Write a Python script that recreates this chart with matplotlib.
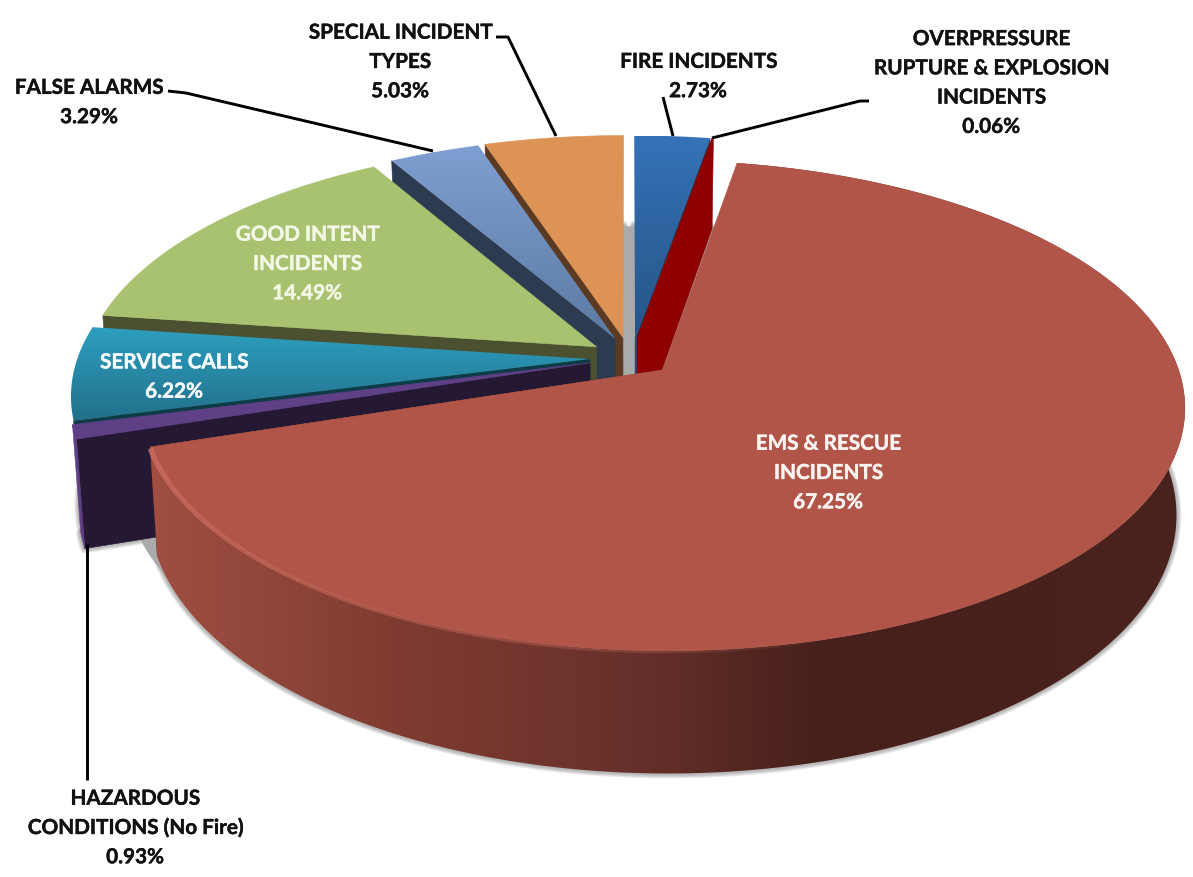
import numpy as np
import matplotlib
matplotlib.use("Agg")
import matplotlib.pyplot as plt
import matplotlib.patheffects as pe
from matplotlib.patches import Polygon
from matplotlib.collections import LineCollection
from matplotlib.colors import to_rgb

# Incident shares, clockwise from twelve o'clock
categories = ["FIRE INCIDENTS", "OVERPRESSURE\nRUPTURE & EXPLOSION\nINCIDENTS",
              "EMS & RESCUE\nINCIDENTS", "HAZARDOUS\nCONDITIONS (No Fire)",
              "SERVICE CALLS", "GOOD INTENT\nINCIDENTS", "FALSE ALARMS",
              "SPECIAL INCIDENT\nTYPES"]
values = [2.73, 0.06, 67.25, 0.93, 6.22, 14.49, 3.29, 5.03]

W, H = 1193, 878
# Perspective projection of the unit disc onto the canvas
X0, Y0, A, B, K = 628.0, 371.0, 516.0, 240.0, 0.145
DEPTH, BASE_SCALE = 105.0, 0.985

# Explosion offset of every slice in disc units
offsets = [(0.014, 0.138), (0.018, 0.138), (0.067, 0.0), (-0.074, 0.03),
           (-0.0745, 0.046), (-0.062, 0.098), (-0.025, 0.132), (-0.01, 0.138)]

face_styles = [
    ["#3572b8", "#255585"], ["#8f0000", "#8f0000"], ["#b05548", "#b05548"],
    ["#5f3f85", "#5f3f85"], ["#2d9fc0", "#22708a"], ["#a9c26f", "#a9c26f"],
    ["#7f9fd2", "#5b7aa3"], ["#dc9355", "#dc9355"]]
side_colors = ["#1f4a75", "#8f0000", "#7a382f", "#241832",
               "#0d3c47", "#4b5030", "#2c3b50", "#5a3a22"]
ems_side_stops = [(150, "#a04f42"), (400, "#7f3b31"), (640, "#66302a"),
                  (820, "#47201b"), (1185, "#4a231e")]
paint_order = [7, 6, 0, 1, 5, 4, 3, 2]
RIM_VISIBLE_END = 255.0


def project(p, q, base=False):
    w = 1.0 / (1.0 + K * q)
    if base:
        return X0 + A * p * w * BASE_SCALE, Y0 - B * q * w + DEPTH * w
    return X0 + A * p * w, Y0 - B * q * w


def rim(theta_deg, off, base=False):
    t = np.radians(theta_deg)
    return project(np.sin(t) + off[0], np.cos(t) + off[1], base)


def xy(x, y):
    return np.column_stack([np.atleast_1d(x), np.atleast_1d(y)])


fig = plt.figure(figsize=(W / 100, H / 100), dpi=100, facecolor="white")
ax = fig.add_axes([0, 0, 1, 1])
ax.axis("off")
z = [10]


def next_z():
    z[0] += 1
    return z[0]


def fill(poly, color):
    ax.add_patch(Polygon(poly, closed=True, fc=color, ec=color, lw=0.4, zorder=next_z()))


def gradient(poly, stops_rgb, horizontal=False):
    x0, y0 = poly.min(axis=0)
    x1, y1 = poly.max(axis=0)
    arr = np.array(stops_rgb)
    arr = arr[None, :, :] if horizontal else arr[:, None, :]
    im = ax.imshow(arr, extent=(x0, x1, y1, y0), aspect="auto", origin="upper",
                   interpolation="bilinear", zorder=next_z())
    im.set_clip_path(Polygon(poly, closed=True, transform=ax.transData))


starts = 360 * np.cumsum([0] + values[:-1]) / sum(values)
ends = 360 * np.cumsum(values) / sum(values)

# Soft drop shadow around the base of each slice
for i in range(len(values)):
    arc = np.linspace(starts[i], ends[i], 120)
    base_poly = np.vstack([xy(*rim(arc, offsets[i], True)),
                           xy(*project(offsets[i][0], offsets[i][1], True))])
    for lw in (7, 5.5, 4, 2.5):
        ax.add_patch(Polygon(base_poly, closed=True, fc="none", ec="#666666",
                             lw=lw, alpha=0.14, joinstyle="round", zorder=3))

# Grey backing disc that shows through the gaps between slices
th = np.linspace(0, 360, 361)
ax.add_patch(Polygon(xy(*rim(th, (0.0, 0.135), base=True)), closed=True,
                     fc="#aaaaaa", ec="none", zorder=4))

# Slices painted back to front
for i in paint_order:
    off = offsets[i]
    s, e = starts[i], ends[i]
    arc = np.linspace(s, e, 300)
    tip = xy(*project(off[0], off[1]))
    tip_b = xy(*project(off[0], off[1], True))

    # Visible radial wall
    wall_theta = e if (s + e) / 2 < 180 else s
    edge = xy(*rim(wall_theta, off))
    edge_b = xy(*rim(wall_theta, off, True))
    fill(np.vstack([edge, edge_b, tip_b, tip]), side_colors[i])

    # Outer wall of slices that reach the viewer's side
    if e > 90 and s < RIM_VISIBLE_END:
        top = xy(*rim(arc, off))
        bot = xy(*rim(arc, off, True))
        wall = np.vstack([top, bot[::-1]])
        if i == 2:
            xs = np.linspace(wall[:, 0].min(), wall[:, 0].max(), 256)
            sx = [v[0] for v in ems_side_stops]
            rgb = np.array([to_rgb(v[1]) for v in ems_side_stops])
            cols = np.column_stack([np.interp(xs, sx, rgb[:, c]) for c in range(3)])
            gradient(wall, cols, horizontal=True)
        else:
            fill(wall, face_styles[i][0])

    # Top face
    face = np.vstack([xy(*rim(arc, off)), tip])
    c0, c1 = map(np.array, map(to_rgb, face_styles[i]))
    if face_styles[i][0] == face_styles[i][1]:
        fill(face, face_styles[i][0])
    else:
        t = np.linspace(0, 1, 128)[:, None]
        gradient(face, c0 * (1 - t) + c1 * t)

    # Bevelled highlight along the front of the large slice
    if i == 2:
        a2 = np.linspace(165, e, 240)
        pts = xy(*rim(a2, off))
        pts[:, 1] += 1.5
        segs = np.stack([pts[:-1], pts[1:]], axis=1)
        frac = np.clip((a2[:-1] - 165) / (e - 165), 0, 1)
        colors = [(0.82, 0.44, 0.38, al) for al in frac ** 0.7 * 0.8]
        ax.add_collection(LineCollection(segs, colors=colors,
                                         linewidths=1.2 + 2.6 * frac,
                                         capstyle="butt", zorder=next_z()))

# Leader lines between the outer labels and their slices
leaders = [[(168, 92), (186, 94), (433, 152)],
           [(496, 38), (508, 38), (556, 137)],
           [(663, 98), (673, 137)],
           [(712, 139), (860, 102), (869, 102)],
           [(87, 545), (87, 781)]]
for pts in leaders:
    lx, ly = zip(*pts)
    ax.plot(lx, ly, color="black", lw=2.1, solid_capstyle="butt", zorder=500)

# Label centres in canvas pixels, in the order of the categories
label_pos = [(698, 77.5), (991, 84), (828, 474), (135, 829),
             (174, 378), (307, 265), (89, 103.5), (400, 63)]
label_color = ["#111111", "#111111", "#fbf3f1", "#111111",
               "#f6fbfd", "#f3f7e6", "#111111", "#111111"]
for name, val, pos, col in zip(categories, values, label_pos, label_color):
    txt = ax.text(pos[0], pos[1], f"{name}\n{val:.2f}%", ha="center", va="center",
                  multialignment="center", family="Lato", weight="bold",
                  fontsize=14.9, color=col, linespacing=1.58, zorder=600)
    txt.set_path_effects([pe.withStroke(linewidth=0.3, foreground=col)])

ax.set_xlim(0, W)
ax.set_ylim(H, 0)
fig.savefig("out.png", dpi=100, facecolor="white")
